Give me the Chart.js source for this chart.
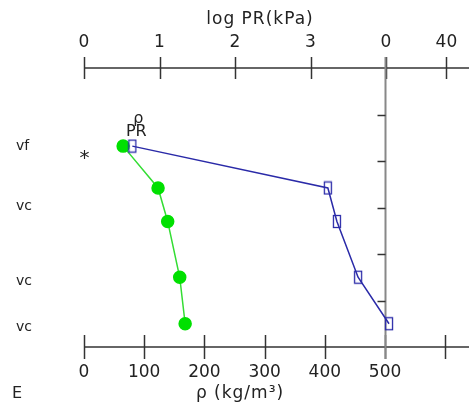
<!DOCTYPE html>
<html>
<head>
<meta charset="utf-8">
<script src="https://cdn.jsdelivr.net/npm/chart.js@4"></script>
<style>
  body { margin: 0; background: #fff; }
  canvas { display: block; }
</style>
</head>
<body>
<canvas id="profileChart" width="469" height="414"></canvas>
<script>
// profile data (depth index from top, 0..6)
const depth = [1.68, 2.58, 3.30, 4.50, 5.50];
const density = [65, 123, 139, 159, 168];        // rho kg/m3
const logPR = [0.64, 3.23, 3.35, 3.63, 4.04];    // log PR (kPa)
const layerLabels = ['vf', 'vc', 'vc', 'vc'];
const layerDepth = [1.69, 2.97, 4.58, 5.58];
const starMark = { rho: 1, depth: 1.88 };

const densityTicks = [0, 100, 200, 300, 400, 500, 600];
const densityTickLabels = ['0', '100', '200', '300', '400', '500', ''];
const prTicks = [0, 1, 2, 3, 4, 4.8];
const prTickLabels = ['0', '1', '2', '3', '0', '40'];
const depthTicks = [1, 2, 3, 4, 5];

const GREEN = '#00e000';
const BLUE = '#2a2aa8';
const INK = '#222';

// tall hollow box used as PR marker
const box = document.createElement('canvas');
box.width = 10; box.height = 15;
const bctx = box.getContext('2d');
bctx.strokeStyle = BLUE; bctx.lineWidth = 1.3;
bctx.strokeRect(1.5, 1.5, 7, 12);

const line = (ctx, x1, y1, x2, y2) => {
  ctx.beginPath(); ctx.moveTo(x1, y1); ctx.lineTo(x2, y2); ctx.stroke();
};

const axesPlugin = {
  id: 'axes',
  beforeDatasetsDraw(chart) {
    const { ctx, chartArea: a, scales: { x, x2, y } } = chart;
    ctx.save();
    ctx.strokeStyle = '#333';
    ctx.lineWidth = 1.5;
    line(ctx, a.left, a.top, chart.width, a.top);
    line(ctx, a.left, a.bottom, chart.width, a.bottom);
    prTicks.forEach(v => {
      const px = Math.round(x2.getPixelForValue(v)) + 0.5;
      line(ctx, px, a.top - 11, px, a.top + 11);
    });
    densityTicks.forEach(v => {
      const px = Math.round(x.getPixelForValue(v)) + 0.5;
      line(ctx, px, a.bottom - 12, px, a.bottom + 12);
    });
    // vertical depth axis at rho = 500
    const vx = Math.round(x.getPixelForValue(500)) + 0.5;
    ctx.strokeStyle = '#888';
    ctx.lineWidth = 2;
    line(ctx, vx, a.top - 11, vx, a.bottom + 12);
    ctx.strokeStyle = '#333';
    ctx.lineWidth = 1.5;
    depthTicks.forEach(v => {
      const py = Math.round(y.getPixelForValue(v)) + 0.5;
      line(ctx, vx - 8, py, vx, py);
    });
    ctx.restore();
  },
  afterDraw(chart) {
    const { ctx, chartArea: a, scales: { x, x2, y } } = chart;
    ctx.save();
    ctx.fillStyle = INK;
    ctx.textAlign = 'center';
    ctx.textBaseline = 'middle';
    ctx.font = '17px "DejaVu Sans"';
    prTicks.forEach((v, i) => ctx.fillText(prTickLabels[i], x2.getPixelForValue(v), 43));
    densityTicks.forEach((v, i) => ctx.fillText(densityTickLabels[i], x.getPixelForValue(v), 373));

    ctx.font = '17px "DejaVu Sans"';
    ctx.letterSpacing = '1px';
    ctx.fillText('log PR(kPa)', 260, 20);
    ctx.fillText('ρ (kg/m³)', 240, 394);
    ctx.letterSpacing = '0px';

    ctx.font = '14px "DejaVu Sans"';
    ctx.textAlign = 'left';
    layerLabels.forEach((t, i) => ctx.fillText(t, 16, y.getPixelForValue(layerDepth[i])));
    ctx.font = '16px "DejaVu Sans"';
    ctx.fillText('E', 12, 394);

    ctx.textAlign = 'center';
    ctx.font = '20px "DejaVu Sans"';
    ctx.fillText('*', x.getPixelForValue(starMark.rho), y.getPixelForValue(starMark.depth) + 3);

    // series labels above the first points
    const px = x2.getPixelForValue(logPR[0]);
    const py = y.getPixelForValue(depth[0]);
    ctx.font = '16px "DejaVu Sans"';
    ctx.fillText('PR', px + 4, py - 14);
    ctx.fillText('ρ', px + 6, py - 27);
    ctx.restore();
  }
};

new Chart(document.getElementById('profileChart'), {
  type: 'line',
  data: {
    datasets: [
      {
        label: 'PR',
        data: logPR.map((v, i) => ({ x: v, y: depth[i] })),
        xAxisID: 'x2',
        yAxisID: 'y',
        borderColor: BLUE,
        borderWidth: 1.5,
        pointStyle: box,
        clip: false
      },
      {
        label: 'ρ',
        data: density.map((v, i) => ({ x: v, y: depth[i] })),
        xAxisID: 'x',
        yAxisID: 'y',
        borderColor: '#33dd33',
        borderWidth: 1.5,
        backgroundColor: GREEN,
        pointBackgroundColor: GREEN,
        pointBorderColor: GREEN,
        pointRadius: 6,
        clip: false
      }
    ]
  },
  options: {
    responsive: false,
    animation: false,
    layout: { padding: { left: 84, right: 1, top: 68, bottom: 67 } },
    plugins: { legend: { display: false }, tooltip: { enabled: false } },
    scales: {
      x: { type: 'linear', display: false, min: 0, max: 627 },
      x2: { type: 'linear', display: false, min: 0, max: 5.0 },
      y: { type: 'linear', display: false, min: 0, max: 6, reverse: true }
    }
  },
  plugins: [axesPlugin]
});
</script>
</body>
</html>
